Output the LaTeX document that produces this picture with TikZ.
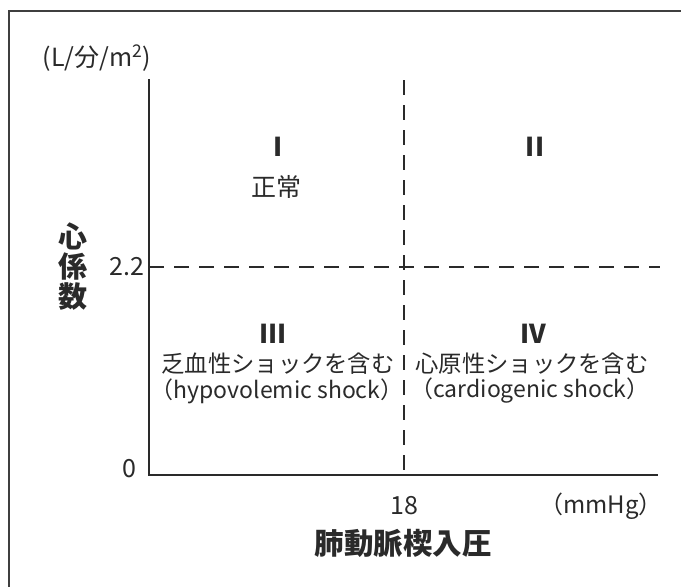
\documentclass[tikz,border=0pt]{standalone}
\usepackage{fontspec}
\setmainfont{Noto Sans CJK JP}
\definecolor{ink}{HTML}{2A2A2A}
\begin{document}
\begin{tikzpicture}[x=1pt,y=-1pt,
  txt/.style={text=ink,inner sep=0pt,font=\fontsize{25}{27}\selectfont},
  jtxt/.style={text=ink,inner sep=0pt,font=\fontsize{23.3}{26}\selectfont},
  ltxt/.style={text=ink,inner sep=0pt,font=\fontsize{23}{26}\selectfont},
  roman/.style={text=ink,inner sep=0pt,font=\fontsize{26}{28}\selectfont\bfseries},
  axtitle/.style={text=ink,inner sep=0pt,font=\fontsize{29.5}{31}\selectfont\bfseries},
  axisline/.style={draw=ink,line width=1.4pt},
  guide/.style={draw=ink,line width=1.2pt,dash pattern=on 15pt off 10pt}]
\useasboundingbox (0,0) rectangle (681,587);
\fill[white] (0,0) rectangle (681,587);
% open frame
\draw[draw=ink!90,line width=2pt] (9,587) -- (9,11) -- (681,11);
% axes
\coordinate (ytop) at (149,79);
\coordinate (org) at (149,475);
\coordinate (xend) at (658,475);
\draw[axisline] (ytop) -- (org) -- (xend);
% guides
\coordinate (vtop) at (404,80);
\coordinate (vbot) at (404,475);
\coordinate (hl) at (149,267);
\coordinate (hr) at (660,267);
\draw[guide] (vtop) -- (vbot);
\draw[guide] (hl) -- (hr);
% axis labels
\node[txt] (yunit) at (97,58) {(L/分/m\textsuperscript{2})};
\node[txt] (y22) at (127,267) {2.2};
\node[txt] (y0) at (129,469) {0};
\node[txt] (x18) at (404,506) {18};
\node[txt,font=\fontsize{24}{26}\selectfont] (xunit) at (601,506) {（mmHg）};
\node[axtitle] (xtitle) at (403,543) {肺動脈楔入圧};
\node[axtitle,align=center,font=\fontsize{29}{30}\selectfont\bfseries] (ytitle) at (73,267) {心\\係\\数};
% quadrants
\node[roman] (q1) at (278,147) {I};
\node[txt] (q1t) at (276,187) {正常};
\node[roman] (q2) at (535,147) {II};
\node[roman] (q3) at (273,334) {III};
\node[jtxt] (q3a) at (278,364) {乏血性ショックを含む};
\node[ltxt] (q3b) at (277,391) {（hypovolemic shock）};
\node[roman] (q4) at (533,334) {IV};
\node[jtxt] (q4a) at (532,364) {心原性ショックを含む};
\node[ltxt] (q4b) at (530,391) {（cardiogenic shock）};
\end{tikzpicture}
\end{document}
